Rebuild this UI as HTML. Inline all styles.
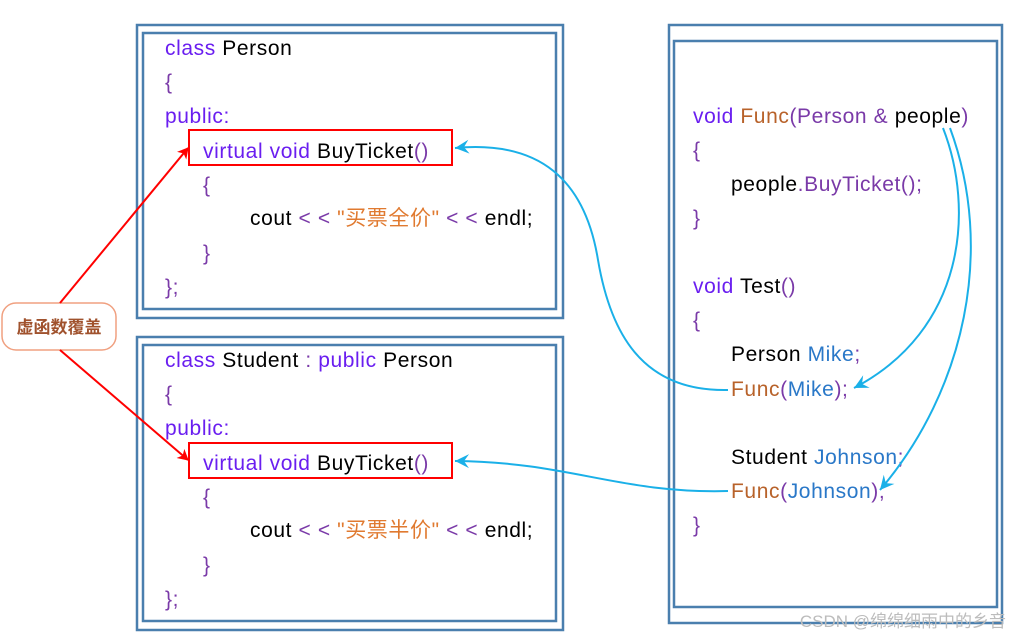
<!DOCTYPE html>
<html><head><meta charset="utf-8"><style>
html,body{margin:0;padding:0;background:#fff;}
svg{display:block;}
text{font-family:"Liberation Sans","Noto Sans CJK SC",sans-serif;font-size:21px;letter-spacing:0.6px;}
.k{fill:#6a1ef0}.p{fill:#7a3aa8}.b{fill:#000}.s{fill:#e07a30}.f{fill:#b8622a}.v{fill:#2a78c8}
</style></head><body>
<svg width="1012" height="636" viewBox="0 0 1012 636" xmlns="http://www.w3.org/2000/svg">
<defs>
<marker id="ra" markerWidth="12" markerHeight="12" refX="10" refY="6" orient="auto" markerUnits="userSpaceOnUse"><path d="M0,0 L11,6 L0,12 L3,6 Z" fill="#f00"/></marker>
<marker id="be" markerWidth="18" markerHeight="16" refX="15" refY="8" orient="auto" markerUnits="userSpaceOnUse"><path d="M1,1 L15,8 L1,15 L6,8 Z" fill="#1ab0e8"/></marker>
</defs>
<g fill="none" stroke="#4a7fae" stroke-width="2.5">
<rect x="137" y="25" width="426" height="293"/><rect x="143" y="33" width="413" height="276"/>
<rect x="137" y="337" width="426" height="293"/><rect x="143" y="345" width="413" height="276"/>
<rect x="669" y="25" width="333" height="598"/><rect x="674" y="41" width="323" height="566"/>
</g>
<rect x="189" y="130" width="263" height="35" fill="none" stroke="#f00" stroke-width="2"/>
<rect x="189" y="443" width="263" height="35" fill="none" stroke="#f00" stroke-width="2"/>

<text x="165" y="55"><tspan class="k">class</tspan> <tspan class="b">Person</tspan></text>
<text x="165" y="89" class="p">{</text>
<text x="165" y="123" class="k">public:</text>
<text x="203" y="158"><tspan class="k">virtual void</tspan> <tspan class="b">BuyTicket</tspan><tspan class="p">()</tspan></text>
<text x="203" y="192" class="p">{</text>
<text x="250" y="225"><tspan class="b">cout</tspan> <tspan class="p">&lt; &lt;</tspan> <tspan class="s">"买票全价"</tspan> <tspan class="p">&lt; &lt;</tspan> <tspan class="b">endl;</tspan></text>
<text x="203" y="260" class="p">}</text>
<text x="165" y="294" class="p">};</text>

<text x="165" y="367"><tspan class="k">class</tspan> <tspan class="b">Student</tspan> <tspan class="p">:</tspan> <tspan class="k">public</tspan> <tspan class="b">Person</tspan></text>
<text x="165" y="401" class="p">{</text>
<text x="165" y="435" class="k">public:</text>
<text x="203" y="470"><tspan class="k">virtual void</tspan> <tspan class="b">BuyTicket</tspan><tspan class="p">()</tspan></text>
<text x="203" y="504" class="p">{</text>
<text x="250" y="537"><tspan class="b">cout</tspan> <tspan class="p">&lt; &lt;</tspan> <tspan class="s">"买票半价"</tspan> <tspan class="p">&lt; &lt;</tspan> <tspan class="b">endl;</tspan></text>
<text x="203" y="572" class="p">}</text>
<text x="165" y="606" class="p">};</text>

<text x="693" y="123"><tspan class="k">void</tspan> <tspan class="f">Func</tspan><tspan class="p">(Person &amp;</tspan> <tspan class="b">people</tspan><tspan class="p">)</tspan></text>
<text x="693" y="157" class="p">{</text>
<text x="731" y="191"><tspan class="b">people</tspan><tspan class="p">.BuyTicket();</tspan></text>
<text x="693" y="225" class="p">}</text>
<text x="693" y="293"><tspan class="k">void</tspan> <tspan class="b">Test</tspan><tspan class="p">()</tspan></text>
<text x="693" y="327" class="p">{</text>
<text x="731" y="361"><tspan class="b">Person</tspan> <tspan class="v">Mike</tspan><tspan class="p">;</tspan></text>
<text x="731" y="396"><tspan class="f">Func</tspan><tspan class="p">(</tspan><tspan class="v">Mike</tspan><tspan class="p">);</tspan></text>
<text x="731" y="464"><tspan class="b">Student</tspan> <tspan class="v">Johnson</tspan><tspan class="p">;</tspan></text>
<text x="731" y="498"><tspan class="f">Func</tspan><tspan class="p">(</tspan><tspan class="v">Johnson</tspan><tspan class="p">);</tspan></text>
<text x="693" y="532" class="p">}</text>

<rect x="2" y="303" width="114" height="47" rx="14" fill="#fff" stroke="#f0a080" stroke-width="1.5"/>
<text x="59" y="333" text-anchor="middle" style="font-size:17px;font-weight:bold;fill:#a0522d;letter-spacing:0">虚函数覆盖</text>
<line x1="60" y1="303" x2="188" y2="148" stroke="#f00" stroke-width="2" marker-end="url(#ra)"/>
<line x1="60" y1="350" x2="188" y2="460" stroke="#f00" stroke-width="2" marker-end="url(#ra)"/>

<g fill="none" stroke="#1ab0e8" stroke-width="2">
<path d="M728,390 C640,392 610,330 598,260 C585,180 540,140 455,148" marker-end="url(#be)"/>
<path d="M728,491 C620,494 570,462 455,461" marker-end="url(#be)"/>
<path d="M943,128 C975,210 965,330 854,388" marker-end="url(#be)"/>
<path d="M950,128 C995,250 965,390 880,490" marker-end="url(#be)"/>
</g>
<text x="1006" y="627" text-anchor="end" style="font-size:17px;fill:#bcbcbc;letter-spacing:0">CSDN @绵绵细雨中的乡音</text>
</svg>
</body></html>
